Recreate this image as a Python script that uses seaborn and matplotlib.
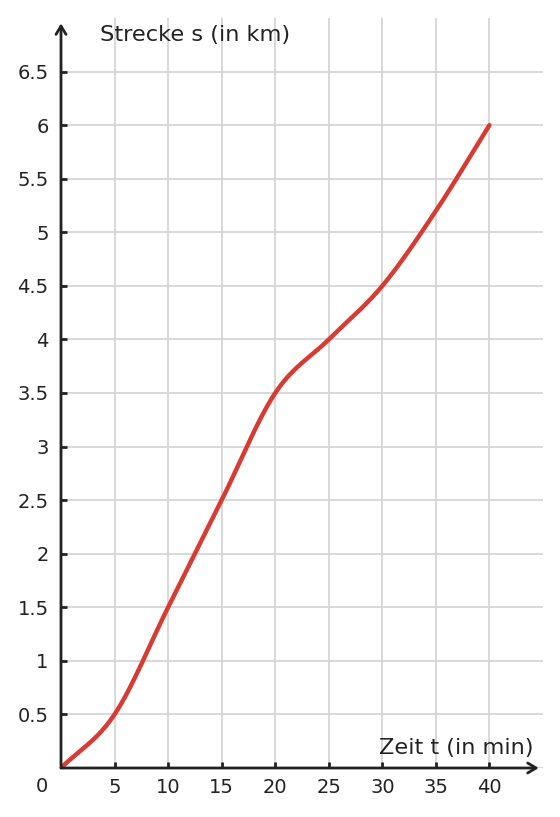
import numpy as np
import pandas as pd
import matplotlib
matplotlib.use("Agg")
import matplotlib.pyplot as plt
import seaborn as sns

# Zeit (min) und Strecke (km)
zeit = [0, 5, 10, 15, 20, 25, 30, 35, 40]
strecke = [0, 0.5, 1.5, 2.5, 3.5, 4.0, 4.5, 5.2, 6.0]
x_ticks = [5, 10, 15, 20, 25, 30, 35, 40]
y_ticks = [0.5, 1, 1.5, 2, 2.5, 3, 3.5, 4, 4.5, 5, 5.5, 6, 6.5]
y_labels = ["0.5", "1", "1.5", "2", "2.5", "3", "3.5", "4", "4.5", "5", "5.5", "6", "6.5"]

# smooth curve through the points (cubic hermite, catmull-rom tangents)
xs = np.array(zeit, float)
ys = np.array(strecke, float)
m = np.gradient(ys, xs)
m[0] = (ys[1] - ys[0]) / (xs[1] - xs[0])
m[-1] = (ys[-1] - ys[-2]) / (xs[-1] - xs[-2])
cx, cy = [], []
for i in range(len(xs) - 1):
    h = xs[i + 1] - xs[i]
    t = np.linspace(0, 1, 40, endpoint=(i == len(xs) - 2))
    h00 = 2*t**3 - 3*t**2 + 1
    h10 = t**3 - 2*t**2 + t
    h01 = -2*t**3 + 3*t**2
    h11 = t**3 - t**2
    cx.extend(xs[i] + t*h)
    cy.extend(h00*ys[i] + h10*h*m[i] + h01*ys[i+1] + h11*h*m[i+1])
df = pd.DataFrame({"t": cx, "s": cy})

sns.set_theme(style="white")
plt.rcParams["font.family"] = ["DejaVu Sans"]

fig = plt.figure(figsize=(5.6, 8.17), dpi=100)
ax = fig.add_axes([61/560, 49/817, (543-61)/560, (768-18)/817])

sns.lineplot(data=df, x="t", y="s", color="#d63b34", lw=3.2, ax=ax, zorder=3,
             solid_capstyle="round")

ax.set_xlim(0, 45)
ax.set_ylim(0, 7)
ax.set_xticks(x_ticks)
ax.set_yticks(y_ticks)
ax.set_yticklabels(y_labels)
for v in x_ticks:
    ax.axvline(v, color="#d6d6d6", lw=1.3, zorder=0)
for v in y_ticks:
    ax.axhline(v, color="#d6d6d6", lw=1.3, zorder=0)
ax.axhline(0, color="#d6d6d6", lw=1.3, zorder=0)

for sp in ax.spines.values():
    sp.set_visible(False)
ax.tick_params(axis="both", direction="in", length=4, width=2, color="#222222",
               labelsize=14, labelcolor="#222222", bottom=True, left=True)
ax.tick_params(axis="x", pad=7.5)
ax.tick_params(axis="y", pad=9)
ax.set_xlabel("")
ax.set_ylabel("")

arrow = dict(arrowstyle="->,head_length=0.5,head_width=0.3", color="#222222", lw=2,
             shrinkA=0, shrinkB=0)
ax.annotate("", xy=(44.6, 0), xytext=(0, 0), arrowprops=arrow, annotation_clip=False, zorder=4)
ax.annotate("", xy=(0, 6.95), xytext=(0, 0), arrowprops=arrow, annotation_clip=False, zorder=4)

ax.annotate("0", xy=(0, 0), xytext=(-13.5, -13.5), textcoords="offset points",
            ha="center", va="center", fontsize=14, color="#222222", annotation_clip=False)
ax.text(3.6, 6.84, "Strecke s (in km)", fontsize=16.2, color="#222222", ha="left", va="center")
ax.text(44.1, 0.19, "Zeit t (in min)", fontsize=16.2, color="#222222", ha="right", va="center")

fig.savefig("out.png", dpi=100, facecolor="white")
